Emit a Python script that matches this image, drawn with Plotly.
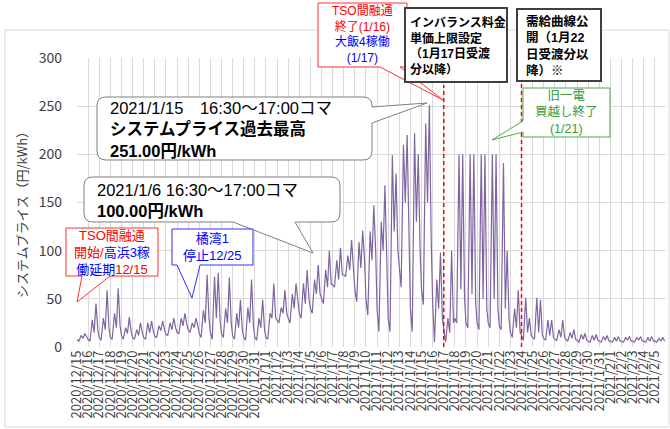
import plotly.graph_objects as go
import pandas as pd

# ---------------- data ----------------
start_day = "2020-12-15"
n_days = 53
day_starts = pd.date_range(start_day, periods=n_days, freq="D")
day_labels = [f"{d.year}/{d.month}/{d.day}" for d in day_starts]

slot_hours = [0, 4, 9, 13, 17, 21]
price_00h = [8,8,10,10,12,10,10,11,13,15,18,14,15,14,12,10,10,10,28,30,35,40,50,65,75,60,50,40,30,80,40,60,47,20,30,25,25,25,22,15,12,10,9,8,8,7,6,6,6,6,6,6,6]
price_04h = [6,6,7,8,8,8,8,10,12,14,15,10,8,10,8,7,7,8,25,25,30,35,45,62,73,47,33,16,16,62,16,44,5,5,25,20,18,20,18,10,7,8,7,7,6,5,5,5,5,5,5,5,5]
price_09h = [12,28,30,35,20,18,25,22,25,30,25,38,73,40,35,41,30,35,41,55,66,70,80,90,95,109,120,130,199,210,222,232,70,30,200,200,200,200,191,40,51,51,28,18,15,13,12,11,10,10,10,10,9]
price_13h = [9,15,18,20,14,12,15,17,18,22,20,25,30,25,20,25,20,30,35,40,45,55,62,70,80,82,90,100,120,150,130,150,40,15,60,55,50,50,40,20,15,15,12,10,9,8,7,7,6,7,7,6,6]
price_17h = [14,45,59,61,31,25,27,27,30,35,30,75,77,72,49,70,49,66,59,66,80,85,100,103,111,121,147,168,180,220,200,251,98,100,200,200,200,200,100,59,30,49,28,28,18,14,13,12,11,11,11,11,10]
price_21h = [10,18,20,22,16,15,16,18,20,24,22,30,28,25,18,22,18,30,35,45,50,55,65,75,80,90,100,90,100,120,100,110,30,25,50,45,40,40,30,15,12,12,10,10,8,7,7,6,6,6,6,6,6]

event_lines = ["2021-01-17", "2021-01-24"]

columns = [price_00h, price_04h, price_09h, price_13h, price_17h, price_21h]
times, prices = [], []
for d, ds in enumerate(day_starts):
    for h, col in zip(slot_hours, columns):
        times.append(ds + pd.Timedelta(hours=h))
        prices.append(col[d])

# ---------------- layout helpers ----------------
W, H = 670, 429
PX0, PX1, PY0, PY1 = 77, 666, 58, 347
FONT = "Noto Sans CJK JP"
BOXFONT = "Liberation Sans, Noto Sans CJK JP"


def fx(px):
    return (px - PX0) / (PX1 - PX0)


def fy(py):
    return (PY1 - py) / (PY1 - PY0)


def P(x, y):
    return f"{fx(x):.5f},{fy(y):.5f}"


def path(cmds):
    out = []
    for c in cmds:
        if c == "Z":
            out.append("Z")
        else:
            op, pts = c[0], c[1:]
            out.append(op + " " + " ".join(P(*p) for p in pts))
    return " ".join(out)


shapes = []
annotations = []


def add_path(cmds, line_color, line_width=1, fill="white"):
    shapes.append(dict(type="path", xref="paper", yref="paper", path=path(cmds),
                       line=dict(color=line_color, width=line_width), fillcolor=fill, layer="above"))


def txt(x, y, s, size=14, color="#000000", xanchor="left", align="left"):
    annotations.append(dict(x=fx(x), y=fy(y), xref="paper", yref="paper", text=s, showarrow=False,
                            xanchor=xanchor, yanchor="middle", align=align, borderpad=0,
                            font=dict(size=size, color=color, family=BOXFONT)))


def c(s, col):
    return f"<span style='color:{col}'>{s}</span>"


RED = "#FF0000"
BLUE = "#0000FF"
GREEN = "#3C9A3C"

# outer chart frame
shapes.append(dict(type="rect", xref="paper", yref="paper", x0=fx(5), x1=fx(669), y0=fy(427), y1=fy(30),
                   line=dict(color="#d9d9d9", width=1), fillcolor="rgba(0,0,0,0)", layer="below"))

# event lines
shapes.append(dict(type="line", xref="x", yref="paper", x0=event_lines[0], x1=event_lines[0],
                   y0=0, y1=fy(85), line=dict(color=RED, width=1.5, dash="4px,3px"), layer="above"))
shapes.append(dict(type="line", xref="x", yref="paper", x0=event_lines[1], x1=event_lines[1],
                   y0=0, y1=fy(81), line=dict(color=RED, width=1.5, dash="4px,3px"), layer="above"))

# callout 1 (record high)
L, T, R, B, r = 97, 97, 372, 160, 9
add_path([("M", (L + r, T)), ("L", (R - r, T)), ("Q", (R, T), (R, T + r)), ("L", (R, 107)), ("L", (427, 103)),
          ("L", (R, 123)), ("L", (R, B - r)), ("Q", (R, B), (R - r, B)), ("L", (L + r, B)),
          ("Q", (L, B), (L, B - r)), ("L", (L, T + r)), ("Q", (L, T), (L + r, T)), "Z"], "#7f7f7f")
txt(109, 129, "2021/1/15　16:30～17:00コマ<br><b>システムプライス過去最高</b><br><b>251.00円/kWh</b>", 16.5)

# callout 2 (1/6)
L, T, R, B, r = 84, 177, 340, 222, 9
add_path([("M", (L + r, T)), ("L", (R - r, T)), ("Q", (R, T), (R, T + r)), ("L", (R, B - r)),
          ("Q", (R, B), (R - r, B)), ("L", (295, B)), ("L", (313, 253)), ("L", (233, B)), ("L", (L + r, B)),
          ("Q", (L, B), (L, B - r)), ("L", (L, T + r)), ("Q", (L, T), (L + r, T)), "Z"], "#7f7f7f")
txt(96, 200, "2021/1/6 16:30～17:00コマ<br><b>100.00円/kWh</b>", 16.5)

# red box 12/15
L, T, R, B = 66, 228, 158, 276
add_path([("M", (L, T)), ("L", (R, T)), ("L", (R, B)), ("L", (110, B)), ("L", (77, 302)), ("L", (82, B)),
          ("L", (L, B)), "Z"], "#FF3030")
txt(112, 252, c("TSO間融通", RED) + "<br>" + c("開始/", RED) + c("高浜3稼", BLUE) + "<br>"
    + c("働延期", BLUE) + c("12/15", RED), 13, xanchor="center", align="center")

# blue box 12/25
L, T, R, B = 172, 229, 253, 265
add_path([("M", (L, T)), ("L", (R, T)), ("L", (R, B)), ("L", (200, B)), ("L", (192, 298)), ("L", (177, B)),
          ("L", (L, B)), "Z"], "#3030FF")
txt(212, 247, "橘湾1<br>停止12/25", 13, BLUE, xanchor="center", align="center")

# red box top (1/16, 1/17)
L, T, R, B = 318, 3, 407, 67
add_path([("M", (L, T)), ("L", (R, T)), ("L", (R, B)), ("L", (400, B)), ("L", (443, 100)), ("L", (380, B)),
          ("L", (L, B)), "Z"], "#FF3030")
txt(362, 35, c("TSO間融通", RED) + "<br>" + c("終了(1/16)", RED) + "<br>" + c("大飯4稼働", BLUE) + "<br>"
    + c("(1/17)", BLUE), 12, xanchor="center", align="center")

# black box imbalance
shapes.append(dict(type="rect", xref="paper", yref="paper", x0=fx(405), x1=fx(507), y0=fy(82), y1=fy(8),
                   line=dict(color="#404040", width=2), fillcolor="white", layer="above"))
txt(409, 46, "<b>インバランス料金<br>単価上限設定<br>（1月17日受渡<br>分以降）</b>", 12)

# black box supply-demand curve
shapes.append(dict(type="rect", xref="paper", yref="paper", x0=fx(517), x1=fx(601), y0=fy(81), y1=fy(9),
                   line=dict(color="#404040", width=2), fillcolor="white", layer="above"))
txt(525, 46, "<b>需給曲線公<br>開（1月22<br>日受渡分以<br>降）※</b>", 12.5)

# green box
L, T, R, B = 523, 88, 610, 137
add_path([("M", (L, T)), ("L", (R, T)), ("L", (R, B)), ("L", (L, B)), ("L", (L, 132)), ("L", (492, 140)),
          ("L", (L, 121)), "Z"], "#4EA64E")
txt(566, 112, "旧一電<br>買越し終了<br>(1/21)", 12.5, GREEN, xanchor="center", align="center")

# y-axis title
annotations.append(dict(x=fx(22), y=fy(212), xref="paper", yref="paper", text="システムプライス（円/kWh）",
                        showarrow=False, textangle=-90, xanchor="center", yanchor="middle",
                        font=dict(size=13, color="#404040", family=FONT)))

fig = go.Figure()
fig.add_trace(go.Scatter(x=times, y=prices, mode="lines", line=dict(color="#8064A2", width=1.2),
                         hoverinfo="x+y"))

fig.update_layout(
    width=W, height=H,
    margin=dict(l=PX0, r=W - PX1, t=PY0, b=H - PY1),
    paper_bgcolor="white", plot_bgcolor="white",
    showlegend=False,
    font=dict(family=FONT, color="#404040"),
    shapes=shapes, annotations=annotations,
    xaxis=dict(type="date", range=[day_starts[0], day_starts[-1] + pd.Timedelta(days=1)],
               tickvals=list(day_starts), ticktext=day_labels, tickangle=-90,
               tickfont=dict(size=13, color="#404040", family=FONT),
               showgrid=True, gridcolor="#d9d9d9", gridwidth=1, zeroline=False, showline=False, ticks=""),
    yaxis=dict(range=[0, 300], dtick=50, tickfont=dict(size=14, color="#404040", family=FONT),
               showgrid=True, gridcolor="#d9d9d9", gridwidth=1, zeroline=False, showline=False, ticks="",
               ticklabelstandoff=14),
)

fig.write_html("out.html")
